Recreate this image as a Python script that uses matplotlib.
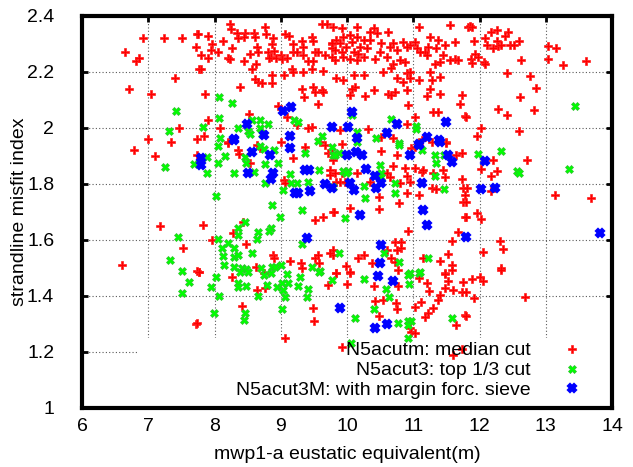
import matplotlib
matplotlib.use('Agg')
import matplotlib.pyplot as plt
from matplotlib.patches import Rectangle
from matplotlib.ticker import FuncFormatter, MultipleLocator

plt.rcParams.update({
    'font.family': ['Liberation Sans', 'DejaVu Sans'],
    'font.size': 14,
})

# ---- data (x = eustatic equivalent, y = misfit index)
red_pts = [
    (6.92, 2.32), (7.24, 2.32), (7.51, 2.32), (7.74, 2.335), (7.72, 2.29), (6.65, 2.27),
    (6.82, 2.24), (6.86, 2.25), (7.77, 2.21), (7.40, 2.18), (6.71, 2.14), (7.04, 2.12),
    (7.46, 2.00), (7.00, 1.96), (7.34, 1.95), (7.74, 1.96), (6.78, 1.92), (7.10, 1.90),
    (7.18, 1.65), (7.52, 1.57), (6.60, 1.51), (7.74, 1.49), (7.72, 1.30),
    (8.23, 2.37), (8.25, 2.355), (8.76, 2.36), (7.75, 2.335), (7.90, 2.33), (8.34, 2.34),
    (8.46, 2.34), (8.45, 2.325), (8.60, 2.34), (8.78, 2.335), (8.61, 2.325), (7.96, 2.30),
    (8.13, 2.31), (8.36, 2.32), (8.88, 2.32), (8.87, 2.30), (9.06, 2.335), (9.12, 2.33),
    (7.80, 2.26), (7.90, 2.25), (7.95, 2.28), (8.05, 2.27), (8.26, 2.285), (8.20, 2.25),
    (8.23, 2.245), (8.54, 2.265), (8.64, 2.29), (8.66, 2.27), (8.80, 2.27), (8.85, 2.255),
    (8.90, 2.275), (8.82, 2.25), (8.93, 2.25), (9.00, 2.26), (9.02, 2.245), (9.10, 2.25),
    (9.18, 2.30), (9.18, 2.27), (9.32, 2.31), (9.34, 2.29), (9.47, 2.325), (9.48, 2.31),
    (9.52, 2.27), (9.62, 2.37), (9.70, 2.37), (9.77, 2.30), (9.77, 2.285), (9.67, 2.26),
    (9.41, 2.24), (9.48, 2.24), (9.56, 2.27), (9.34, 2.26), (9.24, 2.27), (8.45, 2.24),
    (8.63, 2.23), (8.57, 2.21), (7.80, 2.21), (8.87, 2.19), (8.87, 2.16), (9.05, 2.19),
    (9.17, 2.21), (9.18, 2.20), (9.34, 2.20), (9.47, 2.21), (9.64, 2.205), (8.61, 2.175),
    (8.66, 2.165), (8.72, 2.16), (8.38, 2.145), (9.32, 2.14), (9.35, 2.11), (9.49, 2.145),
    (9.52, 2.13), (9.62, 2.135), (9.64, 2.13), (7.86, 2.12), (9.56, 2.085), (8.96, 2.08),
    (9.09, 2.04), (8.52, 2.05), (9.47, 2.005), (9.41, 2.00), (7.90, 2.03), (8.08, 2.00),
    (7.84, 1.97), (8.20, 1.95), (9.00, 1.95), (9.25, 2.01),
    (9.79, 2.362), (9.92, 2.356), (10.15, 2.362), (10.40, 2.356), (10.45, 2.338),
    (10.34, 2.344), (10.62, 2.344), (11.55, 2.368), (11.83, 2.362), (11.08, 2.362),
    (11.25, 2.326), (11.38, 2.314), (11.63, 2.308), (11.48, 2.296), (11.23, 2.29),
    (11.03, 2.308), (10.95, 2.296), (10.85, 2.308), (10.70, 2.302), (10.65, 2.29),
    (10.52, 2.302), (10.35, 2.314), (10.25, 2.314), (10.15, 2.326), (10.04, 2.332),
    (9.94, 2.326), (9.84, 2.314), (9.77, 2.302), (9.89, 2.302), (10.07, 2.308),
    (10.20, 2.29), (9.99, 2.29), (9.82, 2.278), (9.92, 2.272), (10.10, 2.272),
    (10.30, 2.284), (10.50, 2.272), (10.75, 2.278), (10.90, 2.29), (11.05, 2.284),
    (11.18, 2.272), (11.35, 2.284), (11.45, 2.26), (11.63, 2.248), (11.68, 2.242),
    (11.55, 2.242), (11.40, 2.236), (11.33, 2.23), (11.20, 2.26), (11.10, 2.272),
    (10.87, 2.236), (10.80, 2.242), (10.70, 2.23), (10.67, 2.213), (10.60, 2.254),
    (10.42, 2.248), (10.25, 2.254), (10.15, 2.242), (10.04, 2.248), (9.94, 2.254),
    (9.82, 2.242), (9.77, 2.254), (10.17, 2.266),
    (10.55, 2.201), (10.90, 2.195), (10.95, 2.201), (11.25, 2.201), (11.40, 2.183),
    (11.28, 2.171), (10.75, 2.177), (9.84, 2.177), (9.94, 2.171), (10.10, 2.189),
    (10.25, 2.189), (10.85, 2.165), (10.95, 2.177), (11.08, 2.171), (10.12, 2.147),
    (10.40, 2.135), (10.07, 2.141), (10.62, 2.123), (10.72, 2.129), (10.67, 2.117),
    (10.90, 2.135), (11.25, 2.141), (11.40, 2.123), (11.20, 2.114), (11.73, 2.117),
    (10.04, 2.117), (10.27, 2.114), (10.92, 2.082), (11.70, 2.084), (11.30, 2.058),
    (11.38, 2.058), (11.78, 2.042), (11.03, 2.040), (10.32, 1.998), (9.89, 1.992),
    (10.52, 1.969), (10.70, 1.963), (10.90, 2.016), (11.08, 1.951), (11.13, 1.957),
    (11.50, 1.951),
    (11.86, 2.364), (11.89, 2.362), (12.18, 2.344), (12.27, 2.35), (12.43, 2.344),
    (12.39, 2.329), (12.09, 2.32), (12.12, 2.296), (12.27, 2.311), (12.21, 2.284),
    (12.28, 2.294), (12.33, 2.296), (12.46, 2.296), (12.52, 2.296), (12.59, 2.31),
    (11.91, 2.311), (11.93, 2.266), (11.97, 2.254), (11.87, 2.248), (11.89, 2.233),
    (12.07, 2.237), (12.08, 2.228), (12.63, 2.242), (13.04, 2.292), (13.16, 2.286),
    (13.04, 2.248), (13.26, 2.225), (13.60, 2.24), (12.42, 2.195), (12.76, 2.185),
    (12.86, 2.144), (12.61, 2.112), (12.28, 2.067), (12.42, 2.046), (12.83, 2.064),
    (12.02, 2.001), (11.96, 1.972), (12.60, 1.99), (11.80, 2.04),
    (7.73, 1.903), (8.21, 1.945), (8.36, 1.921), (8.37, 1.907), (8.64, 1.939),
    (8.69, 1.927), (8.54, 1.876), (9.19, 1.892), (9.36, 1.933), (9.59, 1.951),
    (9.67, 1.939), (9.72, 1.909), (9.74, 1.85), (9.74, 1.832), (9.05, 1.814),
    (9.07, 1.802), (9.79, 1.701), (9.64, 1.681), (9.51, 1.671), (7.83, 1.653),
    (7.96, 1.60), (8.43, 1.665), (8.28, 1.624), (8.48, 1.586), (8.89, 1.546),
    (8.90, 1.534), (9.14, 1.526), (9.31, 1.517), (9.32, 1.499), (9.51, 1.534),
    (9.56, 1.546), (9.57, 1.517), (9.79, 1.546), (8.62, 1.502), (7.77, 1.484),
    (8.74, 1.483),
    (9.92, 1.943), (9.77, 1.909), (10.52, 1.919), (10.75, 1.903), (10.97, 1.927),
    (11.02, 1.933), (11.28, 1.951), (11.49, 1.945), (11.65, 1.903), (11.73, 1.909),
    (10.70, 1.864), (10.87, 1.856), (11.02, 1.856), (11.13, 1.844), (11.15, 1.85),
    (11.45, 1.85), (11.48, 1.826), (11.30, 1.838), (11.73, 1.817), (9.79, 1.886),
    (9.82, 1.838), (9.92, 1.838), (10.15, 1.838), (9.84, 1.808), (9.89, 1.808),
    (9.97, 1.808), (10.35, 1.808), (10.60, 1.838), (10.65, 1.824), (10.80, 1.805),
    (10.90, 1.828), (10.95, 1.808), (11.08, 1.761), (11.29, 1.784), (11.35, 1.781),
    (11.75, 1.784), (11.78, 1.761), (11.75, 1.737), (10.90, 1.767), (10.49, 1.755),
    (10.79, 1.731), (10.05, 1.713), (10.49, 1.709), (9.80, 1.701), (11.78, 1.683),
    (10.92, 1.633), (11.68, 1.63), (11.58, 1.597), (10.72, 1.594), (10.82, 1.594),
    (10.82, 1.57), (10.75, 1.564), (10.60, 1.564), (10.25, 1.546), (10.17, 1.534),
    (9.79, 1.564), (9.74, 1.552), (10.37, 1.517), (10.67, 1.534), (10.72, 1.522),
    (11.15, 1.534), (11.40, 1.526), (11.53, 1.55), (11.58, 1.51), (11.58, 1.493),
    (9.99, 1.507), (9.84, 1.483), (10.05, 1.481), (10.77, 1.493), (11.48, 1.481),
    (12.20, 1.886), (12.71, 1.886), (12.02, 1.853), (12.27, 1.846), (12.18, 1.828),
    (12.17, 1.776), (13.14, 1.761), (13.68, 1.749), (11.96, 1.697), (12.02, 1.676),
    (12.31, 1.596), (12.36, 1.568), (12.06, 1.558), (12.33, 1.499), (11.81, 1.784),
    (11.80, 1.737), (11.80, 1.681),
    (7.77, 1.487), (8.27, 1.467), (8.64, 1.422), (8.76, 1.428), (8.42, 1.364),
    (7.73, 1.305), (9.49, 1.356), (9.50, 1.312), (9.07, 1.249), (9.71, 1.44),
    (9.84, 1.481), (10.04, 1.487), (10.00, 1.443), (10.41, 1.436), (10.77, 1.436),
    (11.08, 1.463), (11.20, 1.445), (11.24, 1.419), (11.48, 1.479), (11.53, 1.455),
    (11.48, 1.428), (11.60, 1.422), (11.40, 1.404), (11.38, 1.386), (11.75, 1.451),
    (11.73, 1.416), (11.80, 1.416), (10.42, 1.383), (10.55, 1.386), (10.74, 1.374),
    (10.76, 1.353), (11.02, 1.362), (11.12, 1.38), (11.30, 1.356), (11.23, 1.338),
    (11.18, 1.326), (10.49, 1.329), (10.95, 1.285), (10.97, 1.273), (11.02, 1.269),
    (9.93, 1.217), (11.60, 1.189), (11.73, 1.21), (11.78, 1.332), (11.65, 1.297),
    (11.89, 1.46), (12.01, 1.469), (12.06, 1.455), (11.92, 1.392), (12.68, 1.398),
    (11.80, 1.329), (12.33, 1.493),
]

green_pts = [
    (7.42, 2.06), (7.31, 1.99), (7.25, 1.86), (7.69, 1.87), (7.45, 1.61), (7.33, 1.53),
    (7.51, 1.49), (7.62, 1.45), (7.51, 1.41),
    (8.07, 2.11), (8.26, 2.09), (8.07, 2.035), (7.83, 2.005), (8.57, 2.03), (8.69, 2.03),
    (8.81, 2.015), (8.35, 2.00), (8.50, 1.99), (8.54, 1.98), (8.69, 2.00), (8.72, 1.98),
    (9.20, 2.03), (9.26, 2.02), (9.62, 1.97), (9.56, 1.955), (8.08, 1.965),
    (10.07, 2.046), (10.67, 2.031), (11.04, 2.007), (11.04, 1.995), (10.15, 1.987),
    (10.15, 1.963), (10.44, 1.963), (10.78, 1.945), (13.44, 2.078),
    (8.06, 1.936), (8.16, 1.90), (7.88, 1.897), (8.05, 1.876), (7.88, 1.838), (8.30, 1.838),
    (8.46, 1.897), (8.48, 1.876), (8.60, 1.844), (8.76, 1.871), (8.90, 1.921), (8.96, 1.874),
    (8.76, 1.805), (9.14, 1.834), (9.04, 1.78), (9.16, 1.802), (9.24, 1.802), (9.36, 1.909),
    (9.41, 1.808), (9.57, 1.85), (8.69, 1.936), (8.74, 1.924), (8.03, 1.757), (8.87, 1.725),
    (9.32, 1.707), (8.99, 1.681), (8.46, 1.665), (8.36, 1.642), (8.36, 1.618), (8.65, 1.63),
    (8.64, 1.603), (8.85, 1.642), (8.82, 1.633), (8.06, 1.603), (8.11, 1.57), (8.21, 1.588),
    (8.30, 1.57), (8.13, 1.543), (8.30, 1.54), (8.36, 1.546), (8.57, 1.552), (8.15, 1.51),
    (8.30, 1.505), (8.41, 1.499), (8.48, 1.495), (8.70, 1.499), (8.87, 1.505), (8.91, 1.505),
    (9.01, 1.51), (9.32, 1.586), (9.47, 1.505), (9.59, 1.49), (9.77, 1.933), (9.79, 1.903),
    (9.88, 1.909), (9.82, 1.903), (10.15, 1.951), (9.94, 1.847), (10.02, 1.847),
    (9.99, 1.838), (10.50, 1.868), (10.51, 1.838), (10.52, 1.826), (10.79, 1.939),
    (11.13, 1.921), (11.33, 1.903), (11.46, 1.903), (11.35, 1.876), (11.33, 1.828),
    (10.72, 1.802), (10.72, 1.769), (10.25, 1.793), (10.27, 1.749), (9.97, 1.677),
    (11.46, 1.781), (9.79, 1.79), (9.88, 1.552), (10.56, 1.552), (10.79, 1.522),
    (11.23, 1.534), (11.09, 1.483), (10.95, 1.481),
    (11.97, 1.906), (12.33, 1.918), (12.56, 1.847), (12.60, 1.84), (13.35, 1.852),
    (8.02, 1.467), (7.95, 1.433), (8.07, 1.401), (7.99, 1.341), (8.36, 1.445), (8.36, 1.433),
    (8.48, 1.436), (8.38, 1.487), (8.51, 1.487), (8.66, 1.40), (8.74, 1.475), (8.79, 1.44),
    (8.86, 1.481), (8.94, 1.433), (9.02, 1.445), (9.11, 1.445), (9.04, 1.422), (9.06, 1.398),
    (9.10, 1.479), (9.29, 1.469), (9.26, 1.436), (9.41, 1.424), (9.39, 1.395), (9.58, 1.487),
    (9.77, 1.457), (8.46, 1.341), (8.45, 1.314), (9.02, 1.353),
    (10.25, 1.46), (10.92, 1.475), (10.93, 1.443), (11.10, 1.487),
    (10.59, 1.424), (10.64, 1.398), (10.40, 1.353), (10.12, 1.32), (10.77, 1.303),
    (10.92, 1.312), (10.97, 1.312), (10.92, 1.297), (10.92, 1.249), (11.58, 1.32),
    (10.06, 1.231),
]

blue_pts = [
    (7.80, 1.892), (7.80, 1.868), (9.03, 2.06), (9.15, 2.075), (8.49, 2.015), (8.75, 1.975),
    (8.29, 1.96), (9.14, 1.97), (9.77, 2.005), (10.07, 2.056), (10.02, 2.005),
    (10.75, 2.014), (10.15, 1.965), (10.60, 1.981), (11.21, 1.969), (11.49, 2.022),
    (11.39, 1.957), (11.08, 1.942), (8.30, 1.957), (8.57, 1.915), (8.84, 1.903),
    (8.50, 1.838), (8.89, 1.838), (8.86, 1.817), (9.14, 1.927), (9.36, 1.85), (9.42, 1.85),
    (9.21, 1.767), (9.26, 1.767), (9.44, 1.776), (9.67, 1.80), (9.78, 1.784),
    (10.00, 1.903), (10.14, 1.915), (10.22, 1.903), (10.29, 1.852), (10.42, 1.828),
    (10.51, 1.802), (10.05, 1.802), (10.10, 1.778), (10.44, 1.784), (10.95, 1.903),
    (11.09, 1.939), (11.40, 1.951), (11.53, 1.903), (11.59, 1.88), (11.13, 1.805),
    (11.14, 1.707), (11.20, 1.653), (10.19, 1.689), (11.80, 1.61), (10.52, 1.582),
    (10.50, 1.519), (10.47, 1.473), (12.08, 1.883), (12.03, 1.782), (12.24, 1.784),
    (13.82, 1.626), (9.39, 1.606), (10.70, 1.455), (9.90, 1.356), (10.61, 1.30),
    (10.43, 1.285),
]

series_labels = ['N5acutm: median cut', 'N5acut3: top 1/3 cut',
                 'N5acut3M: with margin forc. sieve']

fig = plt.figure(figsize=(6.33, 4.67), dpi=100)
ax = fig.add_axes([82/633, 59/467, 530/633, 392/467])

ax.set_xlim(6, 14)
ax.set_ylim(1, 2.4)
ax.xaxis.set_major_locator(MultipleLocator(1))
ax.yaxis.set_major_locator(MultipleLocator(0.2))
ax.yaxis.set_major_formatter(FuncFormatter(lambda v, p: f'{v:g}'))
ax.grid(True, color='0.35', linestyle=(0, (1, 2)), linewidth=0.8)
ax.set_axisbelow(True)

# opaque key area (grid hidden under it, like gnuplot)
ax.add_patch(Rectangle((0.104, 0), 0.9, 0.179, transform=ax.transAxes,
                       facecolor='white', edgecolor='none', zorder=1))

rx, ry = zip(*red_pts)
gx, gy = zip(*green_pts)
bx, by = zip(*blue_pts)
ax.plot(rx, ry, 'P', color='#ff0000', markersize=6, markeredgewidth=0.5,
        markeredgecolor='#ff2020', label=series_labels[0], zorder=3)
ax.plot(gx, gy, 'X', color='#00ff00', markersize=6.3, markeredgewidth=0.5,
        markeredgecolor='#30c030', label=series_labels[1], zorder=4)
ax.plot(bx, by, 'X', color='#0000ff', markersize=5.3, markeredgewidth=1.6,
        markeredgecolor='#0000ff', label=series_labels[2], zorder=5)

for s in ax.spines.values():
    s.set_linewidth(3)
ax.tick_params(direction='in', length=4, width=2, top=True, right=True,
               labelsize=14, colors='black')
ax.tick_params(axis='y', pad=20)
ax.tick_params(axis='x', pad=7)

ax.set_xlabel('mwp1-a eustatic equivalent(m)', fontsize=14, labelpad=8)
ax.set_ylabel('strandline misfit index', fontsize=14, labelpad=-1)

ax.legend(loc='lower right', bbox_to_anchor=(0.988, 0.0), frameon=False,
          markerfirst=False, handlelength=2.6, handletextpad=0.8,
          labelspacing=0.12, borderaxespad=0.15, borderpad=0.3, fontsize=14)

fig.savefig('out.png', dpi=100)
